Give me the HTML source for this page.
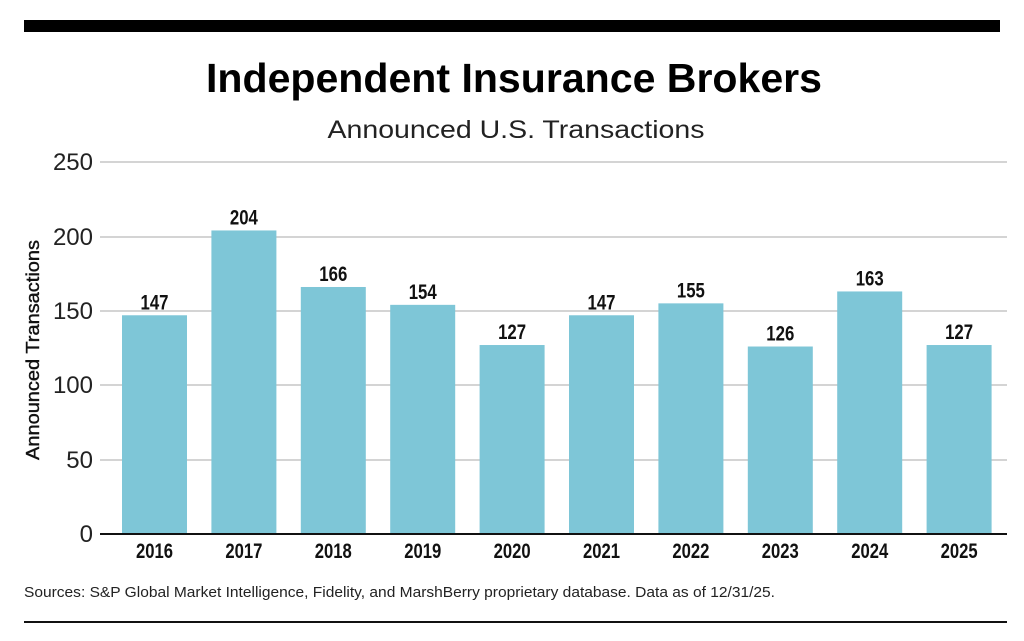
<!DOCTYPE html>
<html><head><meta charset="utf-8"><style>
html,body{margin:0;padding:0;background:#fff}
svg{display:block}
.n{font-family:"Liberation Sans Narrow","Liberation Sans",sans-serif;font-weight:bold}
</style></head><body>
<svg width="1024" height="641" viewBox="0 0 1024 641" xmlns="http://www.w3.org/2000/svg">
<rect x="24" y="20" width="976" height="12" fill="#000"/>
<text x="514" y="92" text-anchor="middle" font-family="Liberation Sans, sans-serif" font-weight="bold" font-size="41" fill="#000" textLength="616" lengthAdjust="spacingAndGlyphs">Independent Insurance Brokers</text>
<text x="516" y="138" text-anchor="middle" font-family="Liberation Sans, sans-serif" font-size="25" fill="#222" textLength="377" lengthAdjust="spacingAndGlyphs">Announced U.S. Transactions</text>
<g stroke="#d4d4d4" stroke-width="2">
<line x1="100" y1="162" x2="1007" y2="162"/>
<line x1="100" y1="237" x2="1007" y2="237"/>
<line x1="100" y1="311" x2="1007" y2="311"/>
<line x1="100" y1="385" x2="1007" y2="385"/>
<line x1="100" y1="460" x2="1007" y2="460"/>
</g>
<g font-family="Liberation Sans, sans-serif" font-size="24" fill="#222" text-anchor="end">
<text x="93" y="170">250</text><text x="93" y="245">200</text><text x="93" y="319">150</text>
<text x="93" y="393">100</text><text x="93" y="468">50</text><text x="93" y="542">0</text>
</g>
<text transform="translate(39,350) rotate(-90)" text-anchor="middle" font-family="Liberation Sans, sans-serif" font-size="18" fill="#111" textLength="220" lengthAdjust="spacingAndGlyphs" stroke="#111" stroke-width="0.4">Announced Transactions</text>
<g fill="#7ec6d7" id="bars"></g>
<line x1="100" y1="534" x2="1007" y2="534" stroke="#111" stroke-width="2"/>
<g class="n" font-size="21" fill="#111" text-anchor="middle" id="lbl"></g>
<text x="24" y="597" font-family="Liberation Sans, sans-serif" font-size="15" fill="#222" textLength="751" lengthAdjust="spacingAndGlyphs">Sources: S&amp;P Global Market Intelligence, Fidelity, and MarshBerry proprietary database. Data as of 12/31/25.</text>
<rect x="24" y="621" width="983" height="2" fill="#111"/>
<script>
var v=[147,204,166,154,127,147,155,126,163,127],b=document.getElementById('bars'),l=document.getElementById('lbl'),ns="http://www.w3.org/2000/svg";
v.forEach(function(d,i){var x=122+i*89.4,h=d*1.488,y=534-h;
var r=document.createElementNS(ns,'rect');r.setAttribute('x',x);r.setAttribute('y',y);r.setAttribute('width',65);r.setAttribute('height',h);b.appendChild(r);
var t=document.createElementNS(ns,'text');t.setAttribute('x',x+32.5);t.setAttribute('y',y-6);t.setAttribute('textLength',28);t.setAttribute('lengthAdjust','spacingAndGlyphs');t.textContent=d;l.appendChild(t);
var u=document.createElementNS(ns,'text');u.setAttribute('x',x+32.5);u.setAttribute('y',558);u.setAttribute('textLength',37);u.setAttribute('lengthAdjust','spacingAndGlyphs');u.textContent=2016+i;l.appendChild(u);});
</script>
</svg>
</body></html>
